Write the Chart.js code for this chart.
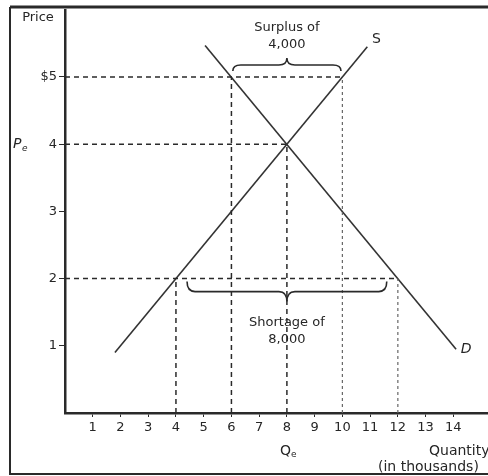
<!DOCTYPE html>
<html>
<head>
<meta charset="utf-8">
<script src="https://cdn.jsdelivr.net/npm/chart.js@4"></script>
<style>
    body { margin: 0; background: #fff; }
    #wrap { width: 488px; height: 476px; position: relative; overflow: hidden; }
</style>
</head>
<body>
<div id="wrap"><canvas id="marketChart" width="488" height="476"></canvas></div>
<script>
// Surplus / shortage diagram - supply and demand with prices away from equilibrium

// Axis ticks
const xTicks = [1, 2, 3, 4, 5, 6, 7, 8, 9, 10, 11, 12, 13, 14];
const yTicks = [1, 2, 3, 4, 5];

// Supply and demand curves (quantity in thousands, price in $)
const supplyQ = [1.8, 10.9];
const supplyP = [0.9, 5.45];
const demandQ = [5.05, 14.1];
const demandP = [5.47, 0.95];

// Horizontal dashed guides: price level and where the guide ends
const guidePrice = [5, 4, 2];
const guideEndQ = [10, 8, 12];

// Vertical dashed guides: quantity and the price they reach
const dropQ = [6, 8, 4, 10, 12];
const dropP = [5, 4, 2, 5, 2];

// Braces: surplus above $5, shortage below $2
const surplusFrom = 6.05, surplusTo = 9.95, surplusPrice = 5;
const shortageFrom = 4.4, shortageTo = 11.6, shortagePrice = 2;

const FONT = '"DejaVu Sans", Verdana, sans-serif';
const INK = '#2a2a2a';
const TEXT = '#262626';

function pts(qs, ps) {
    return qs.map((q, i) => ({ x: q, y: ps[i] }));
}

const datasets = [];

guidePrice.forEach((p, i) => {
    datasets.push({
        data: [{ x: 0, y: p }, { x: guideEndQ[i], y: p }],
        borderColor: INK,
        borderWidth: 1.5,
        borderDash: [5, 4],
        showLine: true,
        pointRadius: 0
    });
});

dropQ.forEach((q, i) => {
    const faint = q >= 10;
    datasets.push({
        data: [{ x: q, y: 0 }, { x: q, y: dropP[i] }],
        borderColor: faint ? '#666' : INK,
        borderWidth: faint ? 1.2 : 1.5,
        borderDash: faint ? [3, 3] : [5, 4],
        showLine: true,
        pointRadius: 0
    });
});

datasets.push({
    label: 'S',
    data: pts(supplyQ, supplyP),
    borderColor: '#333',
    borderWidth: 1.6,
    showLine: true,
    pointRadius: 0
});

datasets.push({
    label: 'D',
    data: pts(demandQ, demandP),
    borderColor: '#333',
    borderWidth: 1.6,
    showLine: true,
    pointRadius: 0
});

// Curly brace between two x pixels; dir = -1 points up, +1 points down
function drawBrace(ctx, x1, x2, yEnd, dir, body, tip) {
    const xm = (x1 + x2) / 2;
    const yBody = yEnd + dir * body;
    const yTip = yEnd + dir * tip;
    const q = 8;
    ctx.beginPath();
    ctx.moveTo(x1, yEnd);
    ctx.quadraticCurveTo(x1, yBody, x1 + q, yBody);
    ctx.lineTo(xm - q, yBody);
    ctx.quadraticCurveTo(xm, yBody, xm, yTip);
    ctx.quadraticCurveTo(xm, yBody, xm + q, yBody);
    ctx.lineTo(x2 - q, yBody);
    ctx.quadraticCurveTo(x2, yBody, x2, yEnd);
    ctx.stroke();
}

const annotations = {
    id: 'annotations',
    afterDraw(chart) {
        const ctx = chart.ctx;
        const xs = chart.scales.x;
        const ys = chart.scales.y;
        ctx.save();

        // outer frame
        ctx.strokeStyle = INK;
        ctx.lineWidth = 2;
        ctx.beginPath();
        ctx.moveTo(10, 475);
        ctx.lineTo(10, 7);
        ctx.moveTo(10, 474);
        ctx.lineTo(490, 474);
        ctx.stroke();
        ctx.lineWidth = 3;
        ctx.beginPath();
        ctx.moveTo(10, 7);
        ctx.lineTo(490, 7);
        ctx.stroke();

        // braces
        ctx.lineWidth = 1.6;
        ctx.strokeStyle = INK;
        drawBrace(ctx, xs.getPixelForValue(surplusFrom), xs.getPixelForValue(surplusTo),
            ys.getPixelForValue(surplusPrice) - 6, -1, 6, 13);
        drawBrace(ctx, xs.getPixelForValue(shortageFrom), xs.getPixelForValue(shortageTo),
            ys.getPixelForValue(shortagePrice) + 3, 1, 10, 20);

        ctx.fillStyle = TEXT;
        ctx.textAlign = 'center';
        ctx.textBaseline = 'middle';
        ctx.font = '13px ' + FONT;
        const midX = xs.getPixelForValue(8);
        ctx.fillText('Surplus of', midX, 28);
        ctx.fillText('4,000', midX, 45);
        ctx.fillText('Shortage of', midX, 323);
        ctx.fillText('8,000', midX, 340);

        // curve labels
        ctx.font = '14px ' + FONT;
        ctx.fillText('S', xs.getPixelForValue(supplyQ[1]) + 9, ys.getPixelForValue(supplyP[1]) - 7);
        ctx.font = 'italic 14px ' + FONT;
        ctx.fillText('D', xs.getPixelForValue(demandQ[1]) + 10, ys.getPixelForValue(demandP[1]));

        // axis titles
        ctx.font = '13px ' + FONT;
        ctx.fillText('Price', 38, 18);
        ctx.textAlign = 'left';
        ctx.font = '14px ' + FONT;
        ctx.fillText('Quantity', 429, 451);
        ctx.fillText('(in thousands)', 378, 467);

        // P_e and Q_e
        const y4 = ys.getPixelForValue(4);
        ctx.font = 'italic 14px ' + FONT;
        ctx.fillText('P', 13, y4);
        ctx.font = 'italic 9px ' + FONT;
        ctx.fillText('e', 22, y4 + 4);
        ctx.font = '14px ' + FONT;
        ctx.fillText('Q', midX - 7, 451);
        ctx.font = '9px ' + FONT;
        ctx.fillText('e', midX + 4, 455);

        ctx.restore();
    }
};

const config = {
    type: 'scatter',
    data: { datasets: datasets },
    options: {
        responsive: false,
        animation: false,
        layout: { padding: { left: 0, right: 0, top: 7, bottom: 0 } },
        plugins: {
            legend: { display: false },
            tooltip: { enabled: false }
        },
        scales: {
            x: {
                type: 'linear',
                min: 0,
                max: 15.25,
                afterBuildTicks: s => { s.ticks = xTicks.map(v => ({ value: v })); },
                afterFit: s => { s.height = 63; },
                border: { display: true, width: 2.5, color: INK },
                grid: { drawOnChartArea: false, drawTicks: true, tickLength: 4, color: INK },
                ticks: {
                    color: TEXT,
                    padding: 3,
                    maxRotation: 0,
                    autoSkip: false,
                    font: { family: FONT, size: 13 }
                }
            },
            y: {
                type: 'linear',
                min: 0,
                max: 6,
                afterBuildTicks: s => { s.ticks = yTicks.map(v => ({ value: v })); },
                afterFit: s => { s.width = 65; },
                border: { display: true, width: 2.5, color: INK },
                grid: { drawOnChartArea: false, drawTicks: true, tickLength: 6, color: INK },
                ticks: {
                    color: TEXT,
                    padding: 2,
                    autoSkip: false,
                    font: { family: FONT, size: 13 },
                    callback: v => (v === 5 ? '$5' : String(v))
                }
            }
        }
    },
    plugins: [annotations]
};

new Chart(document.getElementById('marketChart').getContext('2d'), config);
</script>
</body>
</html>
